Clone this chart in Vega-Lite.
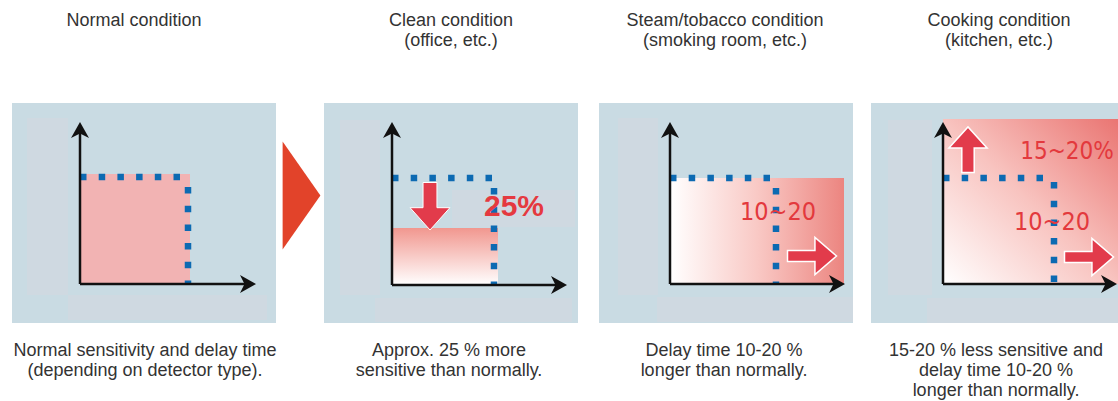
{
  "$schema": "https://vega.github.io/schema/vega-lite/v6.json",
  "width": 1118,
  "height": 401,
  "padding": 0,
  "autosize": {"type": "fit", "contains": "padding"},
  "background": "#ffffff",
  "config": {"view": {"stroke": null}},
  "encoding": {
    "x": {"field": "x", "type": "quantitative", "scale": {"domain": [0, 1118], "nice": false, "zero": false}, "axis": null},
    "y": {"field": "y", "type": "quantitative", "scale": {"domain": [0, 401], "nice": false, "zero": false, "reverse": true}, "axis": null}
  },
  "layer": [
    {
      "data": {"values": [
        {"x": 12, "x2": 276, "y": 103, "y2": 323},
        {"x": 324, "x2": 578, "y": 103, "y2": 323},
        {"x": 599, "x2": 853, "y": 103, "y2": 323},
        {"x": 871, "x2": 1118, "y": 103, "y2": 323}
      ]},
      "mark": {"type": "rect", "fill": "#c9dbe3"},
      "encoding": {"x2": {"field": "x2"}, "y2": {"field": "y2"}}
    },
    {
      "data": {"values": [
        {"x": 27, "x2": 68, "y": 118, "y2": 295},
        {"x": 68, "x2": 267, "y": 295, "y2": 320},
        {"x": 340, "x2": 380, "y": 120, "y2": 295},
        {"x": 375, "x2": 572, "y": 298, "y2": 322},
        {"x": 618, "x2": 658, "y": 118, "y2": 295},
        {"x": 657, "x2": 853, "y": 297, "y2": 322},
        {"x": 888, "x2": 932, "y": 120, "y2": 295},
        {"x": 927, "x2": 1118, "y": 298, "y2": 323},
        {"x": 452, "x2": 575, "y": 190, "y2": 227}
      ]},
      "mark": {"type": "rect", "fill": "#cfd9e1"},
      "encoding": {"x2": {"field": "x2"}, "y2": {"field": "y2"}}
    },
    {
      "data": {"values": [{"x": 80, "x2": 190, "y": 174, "y2": 284}]},
      "mark": {"type": "rect", "fill": "#f2b3b3"},
      "encoding": {"x2": {"field": "x2"}, "y2": {"field": "y2"}}
    },
    {
      "data": {"values": [{"x": 392, "x2": 498, "y": 228, "y2": 285}]},
      "mark": {"type": "rect", "fill": {"gradient": "linear", "x1": 0, "y1": 0, "x2": 0, "y2": 1, "stops": [{"offset": 0, "color": "#f1978f"}, {"offset": 1, "color": "#ffffff"}]}},
      "encoding": {"x2": {"field": "x2"}, "y2": {"field": "y2"}}
    },
    {
      "data": {"values": [{"x": 670, "x2": 844, "y": 178, "y2": 284}]},
      "mark": {"type": "rect", "fill": {"gradient": "linear", "x1": 0, "y1": 0, "x2": 1, "y2": 0, "stops": [{"offset": 0, "color": "#ffffff"}, {"offset": 0.5, "color": "#f9c9c5"}, {"offset": 1, "color": "#ec8580"}]}},
      "encoding": {"x2": {"field": "x2"}, "y2": {"field": "y2"}}
    },
    {
      "data": {"values": [{"x": 943, "x2": 1118, "y": 119, "y2": 284}]},
      "mark": {"type": "rect", "fill": {"gradient": "linear", "x1": 0, "y1": 1, "x2": 1, "y2": 0, "stops": [{"offset": 0, "color": "#ffffff"}, {"offset": 0.5, "color": "#f8c3bf"}, {"offset": 1, "color": "#ea7572"}]}},
      "encoding": {"x2": {"field": "x2"}, "y2": {"field": "y2"}}
    },
    {
      "data": {"values": [
        {"x": 80, "x2": 186, "y": 177, "y2": 177},
        {"x": 392, "x2": 497, "y": 178, "y2": 178},
        {"x": 670, "x2": 774, "y": 178, "y2": 178},
        {"x": 943, "x2": 1047, "y": 178, "y2": 178},
        {"x": 188, "x2": 188, "y": 187, "y2": 285},
        {"x": 494, "x2": 494, "y": 188, "y2": 286},
        {"x": 776, "x2": 776, "y": 188, "y2": 285},
        {"x": 1054, "x2": 1054, "y": 182, "y2": 285}
      ]},
      "mark": {"type": "rule", "color": "#0c6ab2", "strokeWidth": 6.5, "strokeDash": [6.5, 12.2], "strokeCap": "butt"},
      "encoding": {"x2": {"field": "x2"}, "y2": {"field": "y2"}}
    },
    {
      "data": {"values": [
        {"x": 80, "x2": 80, "y": 284, "y2": 128},
        {"x": 80, "x2": 250, "y": 284, "y2": 284},
        {"x": 392, "x2": 392, "y": 285, "y2": 128},
        {"x": 392, "x2": 561, "y": 285, "y2": 285},
        {"x": 670, "x2": 670, "y": 284, "y2": 128},
        {"x": 670, "x2": 839, "y": 284, "y2": 284},
        {"x": 943, "x2": 943, "y": 284, "y2": 128},
        {"x": 943, "x2": 1111, "y": 284, "y2": 284}
      ]},
      "mark": {"type": "rule", "color": "#111111", "strokeWidth": 2.5},
      "encoding": {"x2": {"field": "x2"}, "y2": {"field": "y2"}}
    },
    {
      "data": {"values": [{"x": 80, "y": 132}, {"x": 392, "y": 132}, {"x": 670, "y": 132}, {"x": 943, "y": 132}]},
      "mark": {"type": "point", "filled": true, "opacity": 1, "color": "#111111", "size": 400, "shape": "M0,-1 L0.9,0.6 L0,0.15 L-0.9,0.6 Z"}
    },
    {
      "data": {"values": [{"x": 246, "y": 284}, {"x": 557, "y": 285}, {"x": 835, "y": 284}, {"x": 1107, "y": 284}]},
      "mark": {"type": "point", "filled": true, "opacity": 1, "color": "#111111", "size": 400, "shape": "M1,0 L-0.6,0.9 L-0.15,0 L-0.6,-0.9 Z"}
    },
    {
      "data": {"values": [{"x": 430, "y": 206.5}]},
      "mark": {"type": "point", "filled": true, "opacity": 1, "fill": "#e23b4b", "stroke": "#ffffff", "strokeWidth": 1, "size": 2304, "shape": "M-0.29,-1 L0.29,-1 L0.29,0.05 L0.83,0.05 L0,0.98 L-0.83,0.05 L-0.29,0.05 Z"}
    },
    {
      "data": {"values": [{"x": 968, "y": 149.5}]},
      "mark": {"type": "point", "filled": true, "opacity": 1, "fill": "#e23b4b", "stroke": "#ffffff", "strokeWidth": 1.5, "size": 2116, "shape": "M-0.27,1 L0.27,1 L0.27,-0.07 L0.83,-0.07 L0,-0.98 L-0.83,-0.07 L-0.27,-0.07 Z"}
    },
    {
      "data": {"values": [{"x": 812, "y": 256}, {"x": 1089, "y": 257}]},
      "mark": {"type": "point", "filled": true, "opacity": 1, "fill": "#e23b4b", "stroke": "#ffffff", "strokeWidth": 1.5, "size": 2400, "shape": "M-1,-0.22 L0.12,-0.22 L0.12,-0.76 L1,0 L0.12,0.76 L0.12,0.22 L-1,0.22 Z"}
    },
    {
      "data": {"values": [{"x": 301.5, "y": 195.5}]},
      "mark": {"type": "point", "filled": true, "opacity": 1, "fill": "#e2432a", "strokeWidth": 0, "size": 11664, "shape": "M-0.35,-1 L0.35,0 L-0.35,1 Z"}
    },
    {
      "data": {"values": [{"x": 514, "y": 207, "t": "25%"}]},
      "mark": {"type": "text", "font": "Liberation Sans", "fontWeight": "bold", "fontSize": 30, "color": "#e5393f", "align": "center", "baseline": "middle"},
      "encoding": {"text": {"field": "t"}}
    },
    {
      "data": {"values": [{"x": 778, "y": 212, "t": "10~20"}, {"x": 1052, "y": 222, "t": "10~20"}]},
      "mark": {"type": "text", "font": "DejaVu Sans Condensed, Liberation Sans", "fontSize": 25, "color": "#e3393d", "align": "center", "baseline": "middle"},
      "encoding": {"text": {"field": "t"}}
    },
    {
      "data": {"values": [{"x": 1067, "y": 152, "t": "15~20%"}]},
      "mark": {"type": "text", "font": "DejaVu Sans Condensed, Liberation Sans", "fontSize": 24, "color": "#e3393d", "align": "center", "baseline": "middle"},
      "encoding": {"text": {"field": "t"}}
    },
    {
      "data": {"values": [
        {"x": 134, "y": 26, "t": "Normal condition"},
        {"x": 451, "y": 26, "t": "Clean condition\n(office, etc.)"},
        {"x": 725, "y": 26, "t": "Steam/tobacco condition\n(smoking room, etc.)"},
        {"x": 999, "y": 26, "t": "Cooking condition\n(kitchen, etc.)"}
      ]},
      "mark": {"type": "text", "font": "Liberation Sans", "fontSize": 18, "lineHeight": 20, "lineBreak": "\n", "color": "#333333", "align": "center", "baseline": "alphabetic"},
      "encoding": {"text": {"field": "t"}}
    },
    {
      "data": {"values": [
        {"x": 145, "y": 356, "t": "Normal sensitivity and delay time\n(depending on detector type)."},
        {"x": 449, "y": 356, "t": "Approx. 25 % more\nsensitive than normally."},
        {"x": 724, "y": 356, "t": "Delay time 10-20 %\nlonger than normally."},
        {"x": 996, "y": 356, "t": "15-20 % less sensitive and\ndelay time 10-20 %\nlonger than normally."}
      ]},
      "mark": {"type": "text", "font": "Liberation Sans", "fontSize": 18, "lineHeight": 20, "lineBreak": "\n", "color": "#333333", "align": "center", "baseline": "alphabetic"},
      "encoding": {"text": {"field": "t"}}
    }
  ]
}
